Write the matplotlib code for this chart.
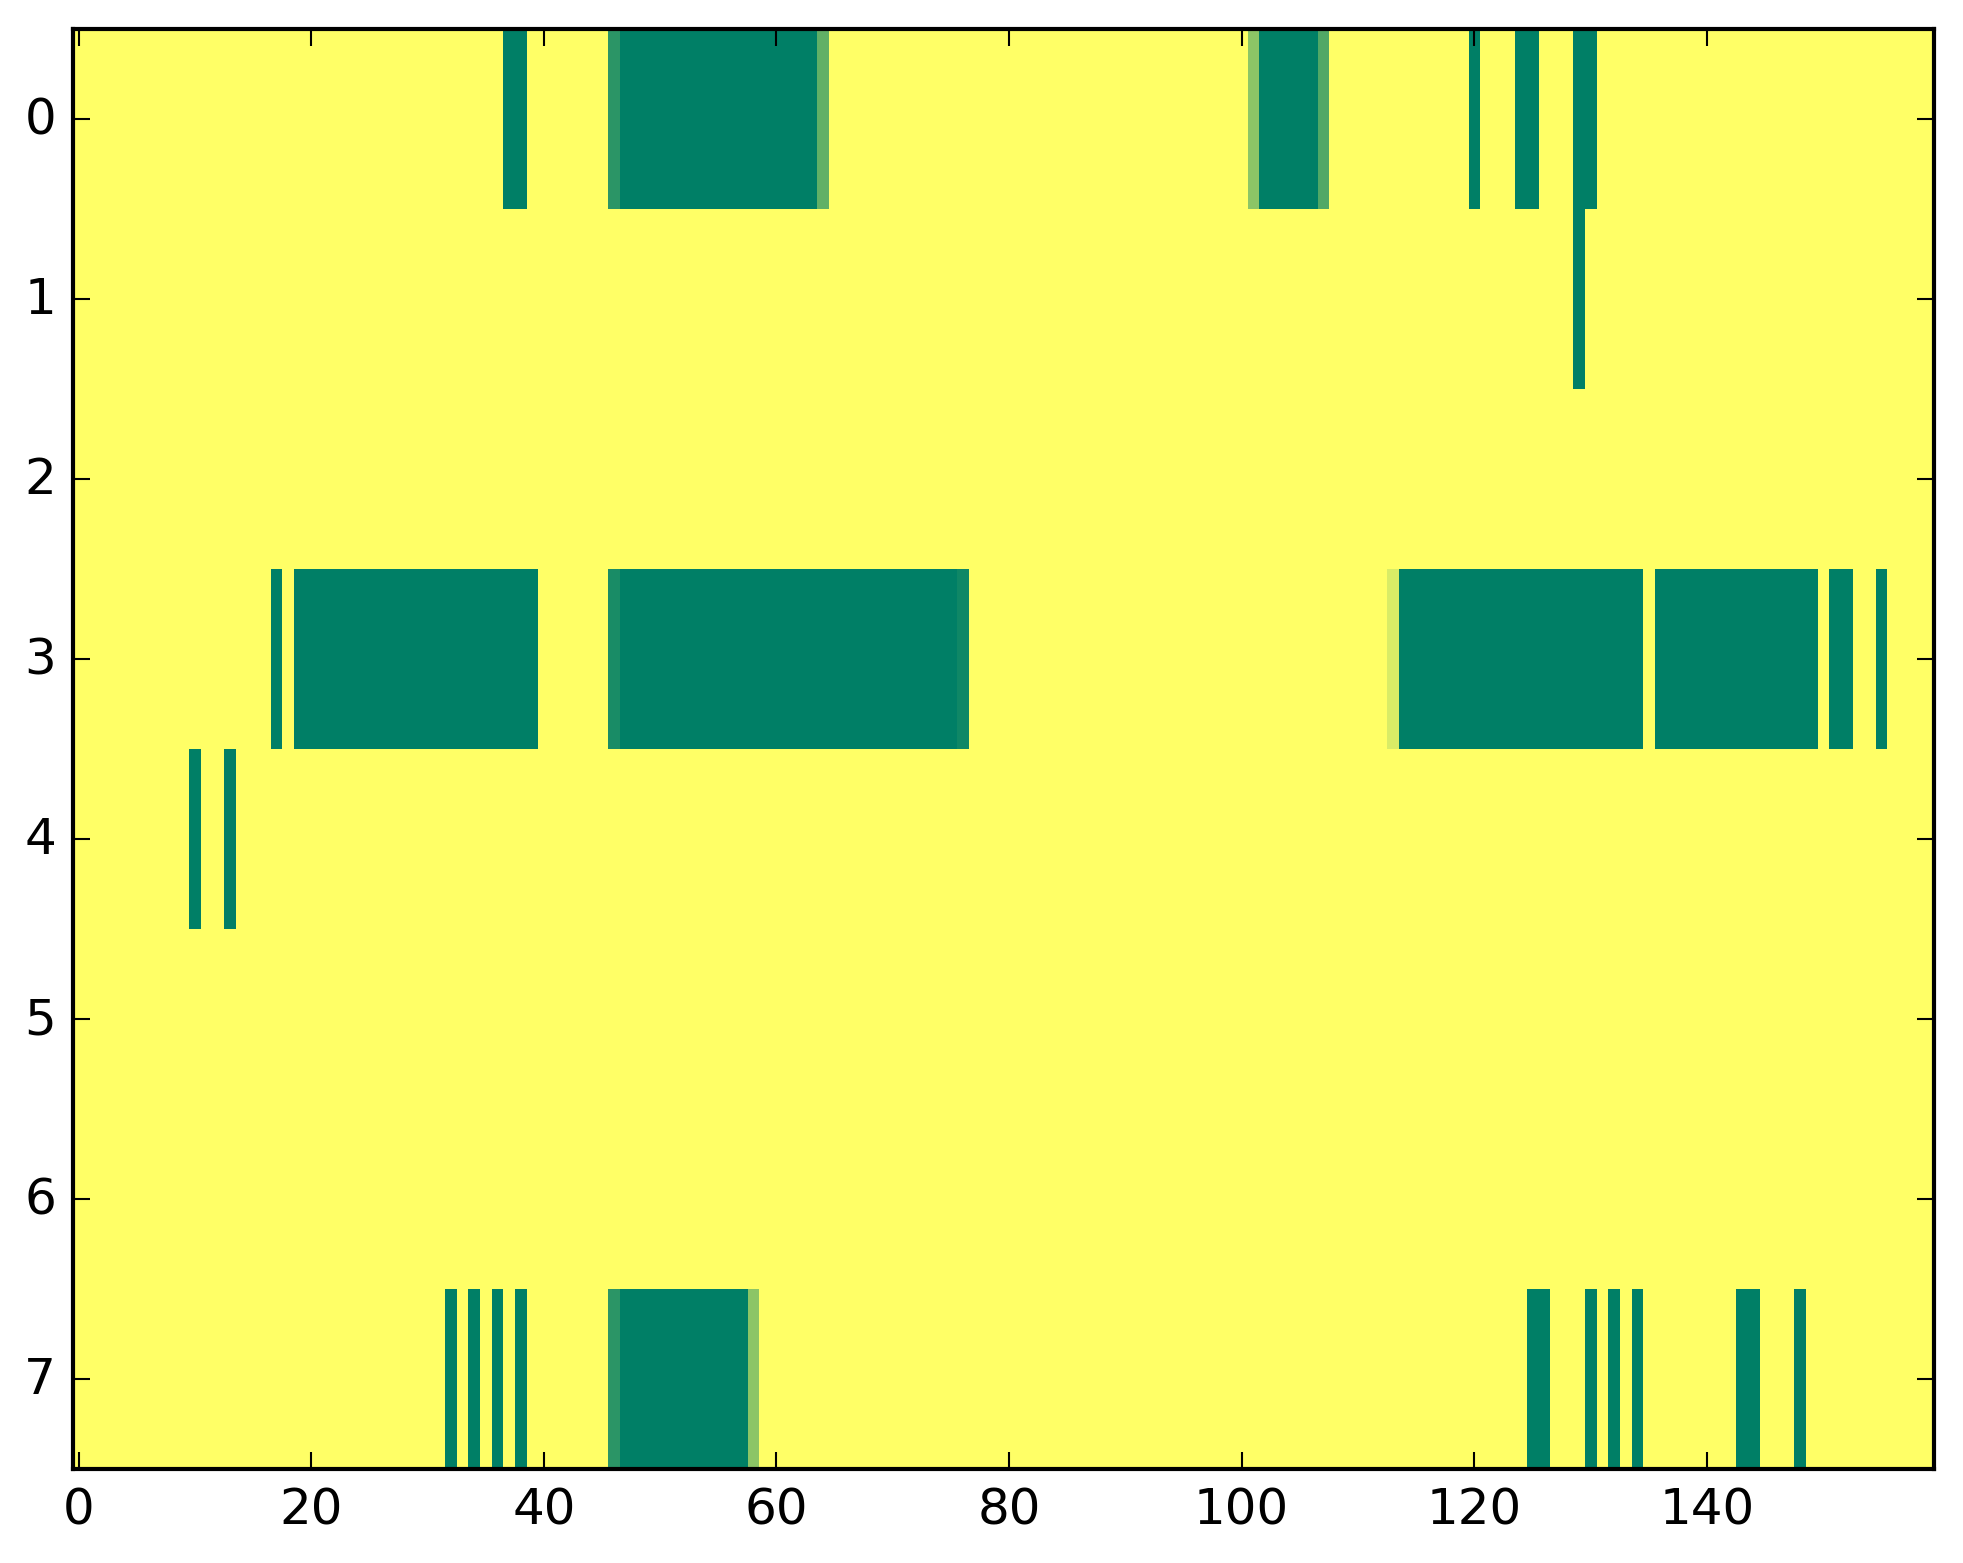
import numpy as np
import matplotlib
matplotlib.use("Agg")
import matplotlib.pyplot as plt

plt.style.use("classic")

n_rows = 8
n_cols = 160

# green runs per row: (first column, last column), value 0
dark_runs = {
    0: [(37, 38), (47, 63), (102, 106), (120, 120), (124, 125), (129, 130)],
    1: [(129, 129)],
    3: [(17, 17), (19, 39), (47, 75), (114, 134), (136, 149), (151, 152), (155, 155)],
    4: [(10, 10), (13, 13)],
    7: [(32, 32), (34, 34), (36, 36), (38, 38), (47, 57), (125, 126), (130, 130),
        (132, 132), (134, 134), (143, 144), (148, 148)],
}

# single cells with in-between values: (row, column, value)
partial_cells = [
    (0, 46, 0.17), (0, 64, 0.38), (0, 101, 0.55), (0, 107, 0.32),
    (3, 46, 0.10), (3, 76, 0.06), (3, 113, 0.85),
    (7, 46, 0.17), (7, 58, 0.55),
]

grid = np.ones((n_rows, n_cols))
for row, runs in dark_runs.items():
    for a, b in runs:
        grid[row, a:b + 1] = 0.0
for row, col, val in partial_cells:
    grid[row, col] = val

fig = plt.figure(figsize=(1963 / 300, 1564 / 300), dpi=300)
ax = fig.add_subplot(111)
fig.subplots_adjust(left=0.0371, right=0.985, bottom=0.060, top=0.9805)

ax.imshow(grid, cmap="summer", interpolation="nearest", aspect="auto", vmin=0, vmax=1)
ax.set_yticks(np.arange(n_rows))

fig.savefig("out.png", dpi=300)
